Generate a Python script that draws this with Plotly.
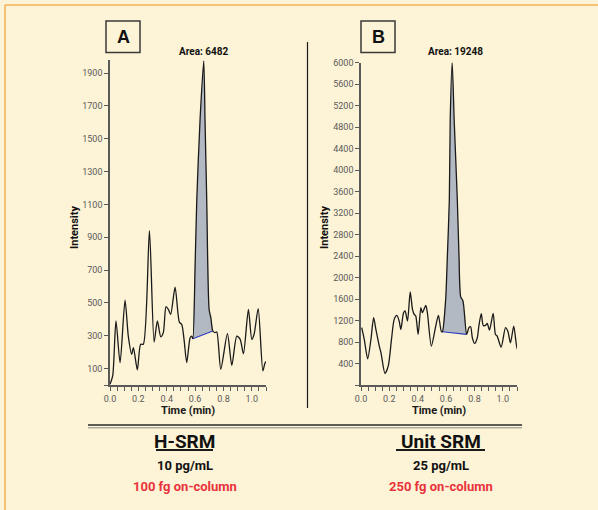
import plotly.graph_objects as go

# ---------------- data ----------------
time_a = [0.0, 0.019, 0.042, 0.071, 0.106, 0.129, 0.153, 0.165, 0.193, 0.216, 0.235,
          0.278, 0.311, 0.334, 0.358, 0.376, 0.395, 0.412, 0.428, 0.459, 0.489, 0.506,
          0.522, 0.541, 0.565, 0.576, 0.584, 0.600, 0.612, 0.635, 0.661, 0.670, 0.682,
          0.699, 0.711, 0.725, 0.741, 0.753, 0.781, 0.828, 0.859, 0.894, 0.918, 0.941,
          0.976, 1.000, 1.016, 1.045, 1.078, 1.094, 1.111]
int_a = [5, 55, 390, 136, 517, 298, 187, 228, 92, 248, 248,
         940, 262, 390, 294, 319, 477, 460, 430, 596, 383, 369,
         278, 136, 288, 298, 282, 724, 1129, 1616, 1975, 1616, 1129,
         460, 410, 329, 319, 323, 96, 313, 120, 298, 278, 191,
         460, 278, 309, 465, 86, 136, 151]

time_b = [0.005, 0.023, 0.047, 0.070, 0.089, 0.105, 0.129, 0.141, 0.169, 0.192, 0.215,
          0.234, 0.253, 0.269, 0.281, 0.300, 0.311, 0.328, 0.347, 0.363, 0.375, 0.386,
          0.403, 0.422, 0.433, 0.457, 0.468, 0.496, 0.527, 0.546, 0.567, 0.574, 0.597,
          0.609, 0.623, 0.629, 0.643, 0.657, 0.679, 0.691, 0.703, 0.719, 0.745, 0.761,
          0.773, 0.785, 0.801, 0.820, 0.831, 0.848, 0.862, 0.878, 0.890, 0.906, 0.932,
          0.948, 0.960, 0.988, 1.019, 1.035, 1.054, 1.077, 1.101, 1.112]
int_b = [1066, 848, 487, 848, 1252, 1034, 723, 599, 213, 350, 848,
         1221, 1296, 1190, 1034, 1345, 1377, 1190, 1731, 1408, 1314, 1283,
         941, 1439, 1345, 1482, 1345, 723, 1097, 1296, 991, 991, 1594,
         2400, 3460, 4935, 6000, 4935, 3460, 2400, 1640, 1563, 941, 1066,
         1084, 879, 773, 879, 1097, 1327, 1109, 1109, 1146, 1022, 1333,
         941, 910, 705, 1066, 1003, 786, 1097, 674, 755]

peak_a = (0.584, 0.725)
peak_b = (0.574, 0.745)
area_labels = ["Area: 6482", "Area: 19248"]
panel_letters = ["A", "B"]
yticks_a = [100, 300, 500, 700, 900, 1100, 1300, 1500, 1700, 1900]
yticks_b = [400, 800, 1200, 1600, 2000, 2400, 2800, 3200, 3600, 4000, 4400, 4800, 5200, 5600, 6000]
xticks = [round(i * 0.05, 2) for i in range(23)]
xtick_text = [("%.1f" % v) if abs(v * 5 - round(v * 5)) < 1e-6 and v <= 1.0 else "" for v in xticks]
methods = ["H-SRM", "Unit SRM"]
concs = ["10 pg/mL", "25 pg/mL"]
oncol = ["100 fg on-column", "250 fg on-column"]

# ---------------- layout helpers ----------------
W, H = 598, 510
def px(x):
    return x / W
def py(y):
    return 1 - y / H

BG = "#FDF3D6"
AXC = "#5a5a5a"
FONT = "Roboto, Liberation Sans, sans-serif"

fig = go.Figure()

def add_panel(t, v, peak, xa, ya):
    sel = [(ti, vi) for ti, vi in zip(t, v) if peak[0] - 1e-9 <= ti <= peak[1] + 1e-9]
    st, sv = [p[0] for p in sel], [p[1] for p in sel]
    fig.add_trace(go.Scatter(x=st + [st[0]], y=sv + [sv[0]], mode="lines", fill="toself",
                             fillcolor="#B3B9C3", line=dict(width=0), xaxis=xa, yaxis=ya,
                             hoverinfo="skip", showlegend=False))
    fig.add_trace(go.Scatter(x=[st[0], st[-1]], y=[sv[0], sv[-1]], mode="lines",
                             line=dict(color="#2F3FC0", width=1.2), xaxis=xa, yaxis=ya,
                             showlegend=False))
    fig.add_trace(go.Scatter(x=t, y=v, mode="lines", line=dict(color="#1a1a1a", width=1.3,
                             shape="spline", smoothing=0.7), xaxis=xa, yaxis=ya,
                             showlegend=False))

add_panel(time_a, int_a, peak_a, "x", "y")
add_panel(time_b, int_b, peak_b, "x2", "y2")

xaxis_common = dict(range=[0, 1.1], tickmode="array", tickvals=xticks, ticktext=xtick_text,
                    ticks="outside", ticklen=4, tickwidth=1.2, tickcolor=AXC,
                    showline=True, linecolor=AXC, linewidth=1.5, showgrid=False, zeroline=False,
                    tickfont=dict(family=FONT, size=9, color=AXC), automargin=False,
                    title=dict(text="<b>Time (min)</b>", font=dict(family=FONT, size=11, color="#1a1a1a"),
                               standoff=4))
yaxis_common = dict(ticks="outside", ticklen=4, tickwidth=1.2, tickcolor=AXC, showline=True,
                    linecolor=AXC, linewidth=1.5, showgrid=False, zeroline=False, automargin=False,
                    tickfont=dict(family=FONT, size=9, color=AXC), tickmode="array")

fig.update_layout(
    width=W, height=H, autosize=False,
    margin=dict(l=0, r=0, t=0, b=0, pad=0),
    paper_bgcolor=BG, plot_bgcolor=BG,
    xaxis=dict(domain=[px(110), px(266)], anchor="y", **xaxis_common),
    xaxis2=dict(domain=[px(361), px(517)], anchor="y2", **xaxis_common),
    yaxis=dict(domain=[py(385), py(60)], range=[0, 1980], anchor="x",
               tickvals=[0] + yticks_a, ticktext=[""] + [str(v) for v in yticks_a], **yaxis_common),
    yaxis2=dict(domain=[py(385), py(62.5)], range=[0, 6000], anchor="x2",
                tickvals=[0] + yticks_b, ticktext=[""] + [str(v) for v in yticks_b], **yaxis_common),
)

shapes = []
# outer frame (top and left visible)
shapes.append(dict(type="line", xref="paper", yref="paper", x0=px(5), x1=px(598), y0=py(5), y1=py(5),
                   line=dict(color="#F6AF55", width=1.5), layer="below"))
shapes.append(dict(type="line", xref="paper", yref="paper", x0=px(5), x1=px(5), y0=py(5), y1=py(510),
                   line=dict(color="#F6AF55", width=1.5), layer="below"))
# letter boxes
for x0, x1 in [(106, 140), (361, 395)]:
    shapes.append(dict(type="rect", xref="paper", yref="paper", x0=px(x0), x1=px(x1), y0=py(52.5), y1=py(21),
                       line=dict(color="#3a3a3a", width=1.5)))
# divider
shapes.append(dict(type="line", xref="paper", yref="paper", x0=px(307.5), x1=px(307.5), y0=py(42), y1=py(408),
                   line=dict(color="#1a1a1a", width=1.2)))
# double rule
shapes.append(dict(type="line", xref="paper", yref="paper", x0=px(88), x1=px(522), y0=py(425), y1=py(425),
                   line=dict(color="#2a2a2a", width=1.6)))
shapes.append(dict(type="line", xref="paper", yref="paper", x0=px(88), x1=px(522), y0=py(427.8), y1=py(427.8),
                   line=dict(color="#8a8a8a", width=1)))
# underlines
for x0, x1 in [(156, 213), (396, 485)]:
    shapes.append(dict(type="line", xref="paper", yref="paper", x0=px(x0), x1=px(x1), y0=py(450), y1=py(450),
                       line=dict(color="#1a1a1a", width=2)))
fig.update_layout(shapes=shapes)

ann = []
for letter, cx in zip(panel_letters, [123, 378]):
    ann.append(dict(text="<b>%s</b>" % letter, x=px(cx), y=py(37), xref="paper", yref="paper",
                    showarrow=False, xanchor="center", yanchor="middle",
                    font=dict(family="Liberation Sans, Arial, sans-serif", size=18, color="#111")))
for lab, cx in zip(area_labels, [203.5, 455]):
    ann.append(dict(text="<b>%s</b>" % lab, x=px(cx), y=py(52), xref="paper", yref="paper",
                    showarrow=False, xanchor="center", yanchor="middle",
                    font=dict(family=FONT, size=10, color="#111")))
for cx in [75, 325]:
    ann.append(dict(text="<b>Intensity</b>", x=px(cx), y=py(228), xref="paper", yref="paper",
                    showarrow=False, textangle=-90, xanchor="center", yanchor="middle",
                    font=dict(family=FONT, size=11, color="#111")))
for m, c, o, cx in zip(methods, concs, oncol, [184.5, 440.5]):
    ann.append(dict(text="<b>%s</b>" % m, x=px(cx), y=py(441), xref="paper", yref="paper",
                    showarrow=False, xanchor="center", yanchor="middle",
                    font=dict(family=FONT, size=19, color="#111")))
    ann.append(dict(text="<b>%s</b>" % c, x=px(cx), y=py(465.5), xref="paper", yref="paper",
                    showarrow=False, xanchor="center", yanchor="middle",
                    font=dict(family=FONT, size=13, color="#111")))
    ann.append(dict(text="<b>%s</b>" % o, x=px(cx), y=py(486.5), xref="paper", yref="paper",
                    showarrow=False, xanchor="center", yanchor="middle",
                    font=dict(family=FONT, size=13, color="#E8323C")))
fig.update_layout(annotations=ann)

fig.write_html("out.html", config={"displayModeBar": False},
               post_script="document.body.style.margin='0';document.body.style.padding='0';"
                           "document.body.style.overflow='hidden';document.body.style.background='%s';" % BG)
